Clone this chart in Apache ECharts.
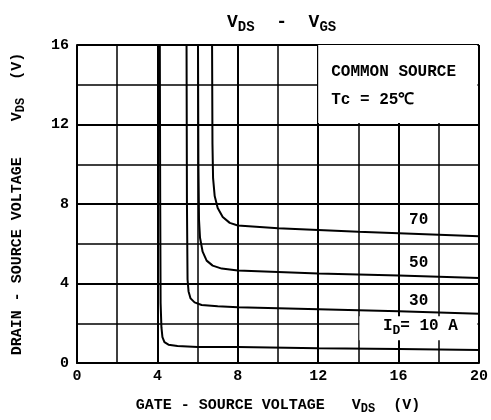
<!DOCTYPE html>
<html>
<head>
<meta charset="utf-8">
<script src="https://cdn.jsdelivr.net/npm/echarts@6/dist/echarts.min.js"></script>
<style>
  html, body { margin: 0; padding: 0; background: #fff; }
  #main { width: 491px; height: 420px; }
</style>
</head>
<body>
<div id="main"></div>
<script>
// 曲线数据 [VGS, VDS]
var curve10 = [[4.12,16],[4.14,8],[4.16,3],[4.2,1.8],[4.25,1.3],[4.35,1.05],[4.55,0.92],[5,0.85],[6,0.8],[8,0.8],[12,0.74],[16,0.7],[20,0.66]];
var curve30 = [[5.45,16],[5.47,8],[5.5,4.2],[5.55,3.6],[5.65,3.25],[5.85,3.05],[6.2,2.92],[7,2.85],[8,2.8],[12,2.7],[16,2.6],[20,2.48]];
var curve50 = [[6.02,16],[6.04,10],[6.07,7.2],[6.12,6.3],[6.25,5.6],[6.45,5.15],[6.75,4.9],[7.2,4.75],[8,4.65],[12,4.5],[16,4.4],[20,4.28]];
var curve70 = [[6.72,16],[6.74,11],[6.77,9.3],[6.85,8.4],[7,7.8],[7.25,7.35],[7.6,7.05],[8,6.92],[10,6.78],[14,6.6],[20,6.38]];
var idLabels = ['70', '50', '30'];
var labelPos = [[17, 7.2], [17, 5.05], [17, 3.1]];
var xTicks = [0, 4, 8, 12, 16, 20];
var yTicks = [0, 4, 8, 12, 16];

var chart = echarts.init(document.getElementById('main'));
var font = '"Liberation Mono", "DejaVu Sans Mono", monospace';

// 带下标的富文本样式
function richStyle(size, subSize, drop) {
    return {
        n: { fontSize: size, fontFamily: font, fontWeight: 'bold', color: '#000', verticalAlign: 'top' },
        s: { fontSize: subSize, fontFamily: font, fontWeight: 'bold', color: '#000', verticalAlign: 'bottom', padding: [drop, 0, 0, 0] }
    };
}

function lineSeries(data, label, pos) {
    var s = {
        type: 'line',
        data: data,
        showSymbol: false,
        symbol: 'none',
        silent: true,
        z: 3,
        lineStyle: { color: '#000', width: 2 }
    };
    if (label) {
        s.markPoint = {
            symbol: 'rect', symbolSize: 0, silent: true,
            label: { show: true, formatter: label, color: '#000', fontFamily: font, fontWeight: 'bold', fontSize: 16 },
            data: [{ coord: pos }]
        };
    }
    return s;
}

chart.setOption({
    animation: false,
    backgroundColor: '#fff',
    title: {
        text: '{n|V}{s|DS}{n|  -  V}{s|GS}',
        left: 222, top: 8,
        textStyle: { rich: richStyle(18, 14, 7) }
    },
    grid: { left: 77, right: 8, top: 45, bottom: 55 },
    xAxis: {
        type: 'value', min: 0, max: 20, interval: 4,
        axisLine: { onZero: false, lineStyle: { color: '#000', width: 2 } },
        axisTick: { show: false },
        axisLabel: { color: '#000', fontFamily: font, fontWeight: 'bold', fontSize: 15, margin: 6,
            formatter: function (v) { return xTicks.indexOf(v) >= 0 ? String(v) : ''; } },
        splitLine: { show: true, lineStyle: { color: '#000', width: 2 } },
        minorTick: { show: false, splitNumber: 2 },
        minorSplitLine: { show: true, lineStyle: { color: '#000', width: 1.5 } },
        name: '{n|GATE - SOURCE VOLTAGE   V}{s|DS}{n|  (V)}',
        nameLocation: 'middle', nameGap: 35,
        nameTextStyle: { rich: richStyle(15, 12, 5) }
    },
    yAxis: {
        type: 'value', min: 0, max: 16, interval: 4,
        axisLine: { show: true, lineStyle: { color: '#000', width: 2 } },
        axisTick: { show: false },
        axisLabel: { color: '#000', fontFamily: font, fontWeight: 'bold', fontSize: 15, margin: 8,
            formatter: function (v) { return yTicks.indexOf(v) >= 0 ? String(v) : ''; } },
        splitLine: { show: true, lineStyle: { color: '#000', width: 2 } },
        minorTick: { show: false, splitNumber: 2 },
        minorSplitLine: { show: true, lineStyle: { color: '#000', width: 1.5 } },
        name: '{n|DRAIN - SOURCE VOLTAGE    V}{s|DS}{n|  (V)}',
        nameLocation: 'middle', nameGap: 50, nameRotate: 90,
        nameTextStyle: { rich: richStyle(15, 12, 5) }
    },
    series: [
        {
            type: 'line', data: [], z: 2, silent: true,
            markArea: {
                silent: true,
                itemStyle: { color: '#fff' },
                data: [
                    [{ xAxis: 12, yAxis: 16, label: {
                        show: true, position: 'insideTopLeft', offset: [8, 15],
                        formatter: 'COMMON SOURCE\n\nTc = 25℃',
                        color: '#000', fontFamily: font, fontWeight: 'bold', fontSize: 16, lineHeight: 14 } },
                     { xAxis: 19.92, yAxis: 12.08 }],
                    [{ xAxis: 14.05, yAxis: 2.35, label: {
                        show: true, position: 'inside', offset: [2, -1],
                        formatter: '{n|I}{s|D}{n|= 10 A}',
                        rich: richStyle(16, 13, 6) } },
                     { xAxis: 19.92, yAxis: 1.15 }]
                ]
            }
        },
        lineSeries(curve10),
        lineSeries(curve30, idLabels[2], labelPos[2]),
        lineSeries(curve50, idLabels[1], labelPos[1]),
        lineSeries(curve70, idLabels[0], labelPos[0])
    ]
});

window.addEventListener('resize', function () {
    chart.resize();
});
</script>
</body>
</html>
